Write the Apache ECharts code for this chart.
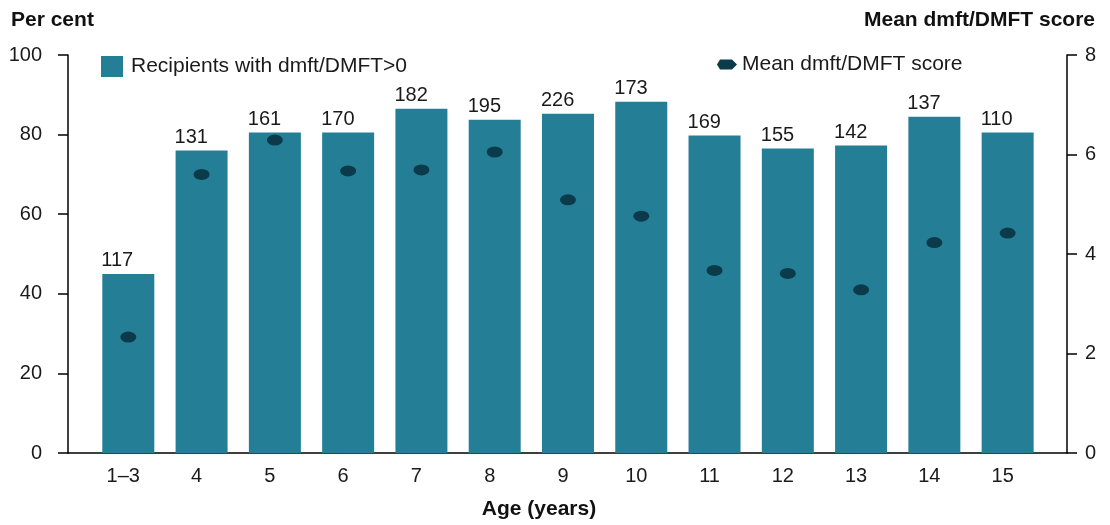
<!DOCTYPE html>
<html>
<head>
<meta charset="utf-8">
<script src="https://cdn.jsdelivr.net/npm/echarts@6/dist/echarts.min.js"></script>
<style>
html,body{margin:0;padding:0;background:#fff;}
#chart{width:1110px;height:525px;}
</style>
</head>
<body>
<div id="chart"></div>
<script>
const categories = ['1–3','4','5','6','7','8','9','10','11','12','13','14','15'];
const recipientsPct = [45.0, 76.0, 80.5, 80.5, 86.5, 83.75, 85.25, 88.25, 79.75, 76.5, 77.25, 84.5, 80.5];
const sampleCounts = [117, 131, 161, 170, 182, 195, 226, 173, 169, 155, 142, 137, 110];
const meanScore = [2.33, 5.6, 6.29, 5.67, 5.69, 6.05, 5.09, 4.76, 3.67, 3.61, 3.28, 4.23, 4.42];
const leftTicks = [0, 20, 40, 60, 80, 100];
const rightTicks = [0, 2, 4, 6, 8];

const barColor = '#247f96';
const dotColor = '#0b3a4b';
const font = 'Liberation Sans, Arial, sans-serif';

const chart = echarts.init(document.getElementById('chart'));
const idx = categories.map((c, i) => i);

chart.setOption({
  animation: false,
  backgroundColor: '#fff',
  textStyle: { fontFamily: font, color: '#1a1a1a' },
  title: [
    { text: 'Per cent', left: 6, top: 5, textStyle: { fontFamily: font, fontSize: 21, fontWeight: 'bold', color: '#111' } },
    { text: 'Mean dmft/DMFT score', right: 10, top: 5, textStyle: { fontFamily: font, fontSize: 21, fontWeight: 'bold', color: '#111' } }
  ],
  legend: [
    {
      data: ['Recipients with dmft/DMFT>0'],
      left: 96, top: 51,
      itemWidth: 22, itemHeight: 21, itemGap: 12,
      textStyle: { fontFamily: font, fontSize: 21, color: '#1a1a1a', padding: [0, 0, 0, 3] },
      icon: 'rect'
    },
    {
      data: [{ name: 'Mean dmft/DMFT score', icon: 'path://M3,0 L15,0 L20,5 L15,10 L3,10 L0,5 Z' }],
      left: 712, top: 49,
      itemWidth: 20, itemHeight: 10,
      textStyle: { fontFamily: font, fontSize: 21, color: '#1a1a1a', padding: [0, 0, 0, 0] }
    }
  ],
  grid: { left: 68, right: 43, top: 55, bottom: 70 },
  xAxis: {
    type: 'value',
    min: -0.823,
    max: 12.81,
    splitLine: { show: false },
    axisTick: { show: false },
    axisLine: { show: true, onZero: false, lineStyle: { color: '#000', width: 1.5 } },
    axisLabel: {
      customValues: idx,
      formatter: v => categories[Math.round(v)],
      fontFamily: font, fontSize: 20, color: '#1a1a1a', margin: 13,
      padding: [0, 10, 0, 0]
    },
    name: 'Age (years)',
    nameLocation: 'middle',
    nameGap: 46,
    nameTextStyle: { fontFamily: font, fontSize: 21, fontWeight: 'bold', color: '#111', padding: [0, 57, 0, 0] }
  },
  yAxis: [
    {
      type: 'value', min: 0, max: 100, interval: 20,
      splitLine: { show: false },
      axisLine: { show: true, onZero: false, lineStyle: { color: '#000', width: 1.5 } },
      axisTick: { show: true, length: 10, lineStyle: { color: '#000', width: 1.5 } },
      axisLabel: { fontFamily: font, fontSize: 20, color: '#1a1a1a', margin: 26,
        customValues: leftTicks }
    },
    {
      type: 'value', min: 0, max: 8, interval: 2, position: 'right',
      splitLine: { show: false },
      axisLine: { show: true, onZero: false, lineStyle: { color: '#000', width: 1.5 } },
      axisTick: { show: true, length: 10, lineStyle: { color: '#000', width: 1.5 } },
      axisLabel: { fontFamily: font, fontSize: 20, color: '#1a1a1a', margin: 18,
        customValues: rightTicks }
    }
  ],
  series: [
    {
      name: 'Recipients with dmft/DMFT>0',
      type: 'bar',
      yAxisIndex: 0,
      barWidth: 52,
      itemStyle: { color: barColor },
      data: recipientsPct.map((v, i) => [i, v]),
      label: {
        show: true,
        position: [-1, -3],
        verticalAlign: 'bottom',
        align: 'left',
        fontFamily: font, fontSize: 20, color: '#1a1a1a',
        formatter: p => String(sampleCounts[p.dataIndex])
      }
    },
    {
      name: 'Mean dmft/DMFT score',
      type: 'scatter',
      yAxisIndex: 1,
      symbol: 'circle',
      symbolSize: [16, 11],
      itemStyle: { color: dotColor, opacity: 1 },
      data: meanScore.map((v, i) => [i, v]),
      z: 5
    }
  ]
});
</script>
</body>
</html>
